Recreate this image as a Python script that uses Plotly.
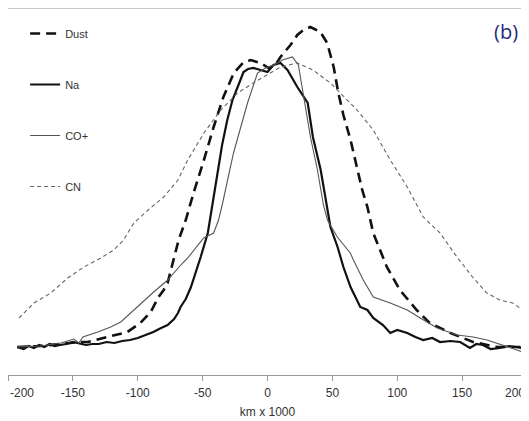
import plotly.graph_objects as go

# x in km x 1000, y in relative intensity (arbitrary units)
dust_x = [-193, -175, -160, -145, -138.5, -123, -108, -98, -90, -84, -80, -77, -72, -68.5, -63, -57, -49, -41.5, -34, -26, -19, -13, -5.4, 0.8, 6, 10, 17.7, 23, 27.7, 33, 40.8, 46, 51, 54.6, 58.5, 64, 68.5, 73, 77, 81.5, 92, 102, 115, 125, 141, 158.5, 177, 195]
dust_y = [28, 29, 31, 33, 33, 38, 43, 52, 63, 78, 85, 92, 118, 135, 155, 182, 215, 248, 278, 302, 312, 315, 312, 307, 310, 318, 330, 340, 345, 348, 343, 332, 308, 282, 260, 235, 210, 185, 168, 142, 108, 85, 65, 52, 42, 33, 28, 28]

na_x = [-193, -188, -184, -180, -176, -172, -168, -164, -160, -155, -150, -146, -140, -135, -130, -124, -118, -112, -106, -100, -94, -88, -82, -77, -72, -69, -67, -63, -59, -55, -51.5, -46, -42, -38.5, -35, -31, -27, -23, -18.5, -15, -11, -5.4, 0, 4.6, 10, 15.4, 23, 31, 35, 41, 46, 48.5, 54, 58.5, 64, 71.5, 77, 81.5, 89, 94.6, 100, 107.7, 114, 120, 127, 133, 141, 148.5, 156, 161, 166, 172, 179, 186, 192, 199]
na_y = [28, 26, 29, 27, 30, 28, 31, 29, 30, 31, 33, 32, 30, 31, 31, 33, 32, 34, 35, 37, 40, 43, 47, 50, 56, 62, 68, 76, 88, 103, 118, 142, 175, 205, 230, 255, 275, 288, 303, 306, 307, 305, 303, 310, 312, 305, 288, 272, 238, 205, 165, 148, 128, 108, 88, 68, 65, 57, 50, 42, 45, 42, 38, 35, 37, 33, 34, 33, 27, 31, 30, 26, 27, 29, 28, 26]

co_x = [-193, -174.6, -159.2, -149.2, -145.4, -142.3, -130.8, -120.8, -113.1, -105.4, -97.7, -87.7, -76.9, -72.3, -66.9, -61.5, -49.2, -41.5, -37.7, -34.6, -26.2, -15.4, -7.7, -1.5, 5, 11.5, 19.2, 23.8, 27.7, 33.1, 38.5, 43.1, 46.2, 53.8, 63.8, 66.2, 73.8, 81.5, 94.6, 107.7, 117.7, 130.8, 146.2, 158.5, 169.2, 184.6, 196.9, 200]
co_y = [28, 29, 32, 36, 32, 38, 43, 48, 53, 62, 72, 83, 95, 102, 110, 117, 137, 142, 155, 172, 222, 272, 302, 307, 310, 315, 318, 310, 280, 238, 205, 170, 155, 138, 122, 115, 95, 78, 72, 65, 57, 47, 40, 38, 35, 28, 23, 18]

cn_x = [-191.5, -180, -167, -154, -141.5, -128.5, -118.5, -111, -103, -92, -80, -69, -61.5, -49, -36, -23, -11, 2.3, 10, 23, 35, 48.5, 64, 69, 81.5, 94.6, 107.7, 120, 133, 146, 158, 169, 179, 189, 200]
cn_y = [57, 72, 82, 97, 108, 117, 125, 135, 152, 165, 178, 195, 215, 242, 265, 282, 292, 302, 308, 312, 305, 292, 272, 265, 245, 215, 188, 158, 142, 118, 98, 82, 75, 72, 62]

x_ticks = [-200, -150, -100, -50, 0, 50, 100, 150, 200]
# end labels are placed as annotations so they stay inside the page
tick_text = ["" if v in (-200, 200) else str(v) for v in x_ticks]
end_ticks = [-200, 200]

fig = go.Figure()
fig.add_trace(go.Scatter(x=dust_x, y=dust_y, mode="lines", name="Dust", legendgroup="a",
                         line=dict(color="#111111", width=2.6, dash="10px,6px")))
fig.add_trace(go.Scatter(x=na_x, y=na_y, mode="lines", name="Na", legendgroup="b",
                         line=dict(color="#111111", width=2.2)))
fig.add_trace(go.Scatter(x=co_x, y=co_y, mode="lines", name="CO+", legendgroup="c",
                         line=dict(color="#555555", width=1.1)))
fig.add_trace(go.Scatter(x=cn_x, y=cn_y, mode="lines", name="CN", legendgroup="d",
                         line=dict(color="#666666", width=1.1, dash="4px,3px")))

annos = [dict(text="(b)", xref="paper", yref="paper", x=0.9865, y=0.937,
              xanchor="right", yanchor="middle", showarrow=False,
              font=dict(family="Open Sans, Noto Sans, sans-serif", size=20, color="#1f2a78"))]
for v in end_ticks:
    annos.append(dict(text=str(v), xref="x", yref="paper", x=v, y=0,
                      xanchor="left" if v < 0 else "right", yanchor="middle", yshift=-18,
                      showarrow=False, font=dict(size=12, color="#333333")))

fig.update_layout(
    width=529, height=421,
    margin=dict(l=0, r=10, t=0, b=54, autoexpand=False),
    paper_bgcolor="white", plot_bgcolor="white",
    font=dict(family="Liberation Sans, Arial, sans-serif", size=12, color="#333333"),
    showlegend=True,
    legend=dict(x=0.033, y=0.97, xanchor="left", yanchor="top",
                bgcolor="rgba(0,0,0,0)", font=dict(size=11, color="#333333"),
                tracegroupgap=32, traceorder="grouped", itemwidth=30),
    xaxis=dict(range=[-200, 200], tickvals=x_ticks, ticktext=tick_text,
               automargin=False,
               showgrid=False, zeroline=False, showline=True, linecolor="#999999", linewidth=1,
               ticks="outside", ticklen=5, tickcolor="#999999", ticklabelstandoff=2,
               title=dict(text="km x 1000", font=dict(size=12, color="#333333"), standoff=8)),
    yaxis=dict(range=[0, 367], automargin=False, showgrid=False, zeroline=False, showline=True,
               linecolor="#b5b5b5", linewidth=1, showticklabels=False, ticks=""),
    shapes=[dict(type="line", xref="paper", yref="paper", x0=0, x1=1.05, y0=1, y1=1,
                 line=dict(color="#b5b5b5", width=1.5))],
    annotations=annos,
)

fig.write_html("out.html")
